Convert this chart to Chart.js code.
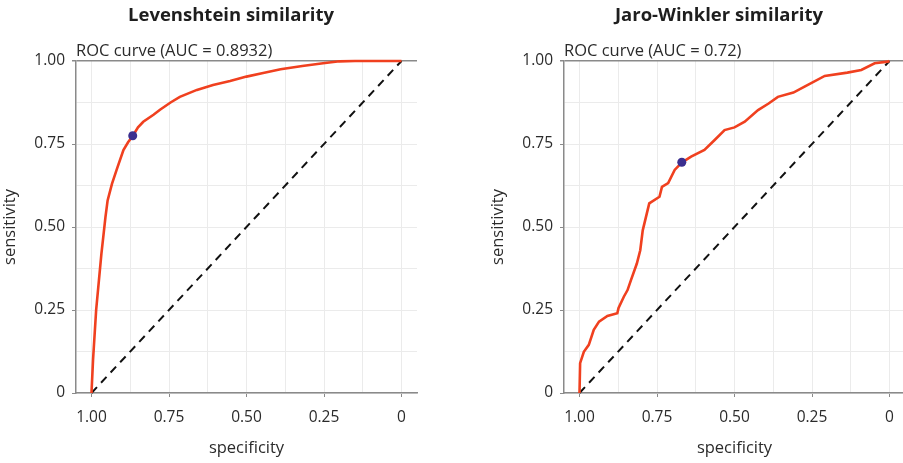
<!DOCTYPE html>
<html>
<head>
<meta charset="utf-8">
<script src="https://cdn.jsdelivr.net/npm/chart.js@4/dist/chart.umd.min.js"></script>
<style>
    html, body { margin: 0; padding: 0; background: #fff; overflow: hidden; width: 903px; height: 463px; }
    canvas { position: absolute; top: 0; }
    #lev-chart { left: 0; }
    #jw-chart { left: 488px; }
</style>
</head>
<body>
<canvas id="lev-chart" width="462" height="463"></canvas>
<canvas id="jw-chart" width="462" height="463"></canvas>
<script>
// ROC data (specificity, sensitivity)
const levSpec = [1.0, 0.995, 0.985, 0.976, 0.968, 0.962, 0.955, 0.948, 0.934, 0.919, 0.897, 0.882, 0.867, 0.85, 0.833, 0.80, 0.779, 0.745, 0.715, 0.66, 0.608, 0.553, 0.5, 0.45, 0.39, 0.32, 0.253, 0.2, 0.15, 0.0];
const levSens = [0.0, 0.10, 0.25, 0.34, 0.42, 0.47, 0.53, 0.58, 0.63, 0.672, 0.732, 0.755, 0.774, 0.80, 0.817, 0.838, 0.853, 0.875, 0.892, 0.913, 0.928, 0.94, 0.953, 0.963, 0.975, 0.985, 0.993, 0.999, 1.0, 1.0];
const levBest = [0.867, 0.775];

const jwSpec = [1.0, 0.998, 0.986, 0.97, 0.954, 0.937, 0.91, 0.878, 0.874, 0.857, 0.845, 0.834, 0.815, 0.804, 0.796, 0.775, 0.742, 0.734, 0.714, 0.693, 0.67, 0.64, 0.597, 0.564, 0.532, 0.50, 0.467, 0.424, 0.39, 0.36, 0.31, 0.274, 0.209, 0.136, 0.091, 0.048, 0.006, 0.0];
const jwSens = [0.0, 0.09, 0.124, 0.145, 0.19, 0.215, 0.232, 0.24, 0.256, 0.29, 0.31, 0.34, 0.39, 0.43, 0.49, 0.571, 0.591, 0.621, 0.632, 0.672, 0.694, 0.712, 0.732, 0.762, 0.792, 0.80, 0.817, 0.852, 0.872, 0.892, 0.905, 0.923, 0.955, 0.965, 0.973, 0.993, 0.998, 1.0];
const jwBest = [0.67, 0.695];

const diagSpec = [1, 0];
const diagSens = [0, 1];

const gridValues = [0, 0.125, 0.25, 0.375, 0.5, 0.625, 0.75, 0.875, 1];
const majorValues = [1, 0.75, 0.5, 0.25, 0];
const majorLabels = ['1.00', '0.75', '0.50', '0.25', '0'];

const FONT = "'Open Sans', 'DejaVu Sans', sans-serif";
const AXIS_COLOR = '#8a8a8a';
const GRID_COLOR = '#ebebeb';
const TEXT_COLOR = '#2b2b2b';

const toPoints = (xs, ys) => xs.map((x, i) => ({ x: x, y: ys[i] }));

const labelFor = (value) => {
    const idx = majorValues.findIndex(v => Math.abs(v - value) < 1e-9);
    return idx >= 0 ? majorLabels[idx] : '';
};
const isMajor = (value) => majorValues.some(v => Math.abs(v - value) < 1e-9);
const setTicks = (scale) => { scale.ticks = gridValues.map(v => ({ value: v })); };

function makeRocChart(id, title, subtitle, spec, sens, best) {
    const ctx = document.getElementById(id);
    return new Chart(ctx, {
        type: 'scatter',
        data: {
            datasets: [
                {
                    data: [{ x: best[0], y: best[1] }],
                    pointRadius: 4.5,
                    pointBackgroundColor: '#3b2f8f',
                    pointBorderWidth: 0,
                    showLine: false,
                    clip: false
                },
                {
                    data: toPoints(spec, sens),
                    showLine: true,
                    borderColor: '#f0401f',
                    borderWidth: 2.6,
                    pointRadius: 0,
                    tension: 0,
                    clip: false
                },
                {
                    data: toPoints(diagSpec, diagSens),
                    showLine: true,
                    borderColor: '#111',
                    borderWidth: 2,
                    borderDash: [8, 6],
                    pointRadius: 0,
                    clip: false
                }
            ]
        },
        options: {
            responsive: false,
            animation: false,
            layout: { padding: 0 },
            plugins: {
                legend: { display: false },
                tooltip: { enabled: false },
                title: {
                    display: true,
                    text: title,
                    color: '#1e1e1e',
                    font: { family: FONT, size: 18.5, weight: 'bold' },
                    padding: { top: 5, bottom: 5 }
                },
                subtitle: {
                    display: true,
                    text: subtitle,
                    fullSize: false,
                    align: 'start',
                    color: TEXT_COLOR,
                    font: { family: FONT, size: 16.5 },
                    padding: { top: 9, bottom: 0 }
                }
            },
            scales: {
                x: {
                    type: 'linear',
                    reverse: true,
                    min: -0.05,
                    max: 1.05,
                    afterBuildTicks: setTicks,
                    afterFit: (scale) => { scale.height = 70; },
                    border: { display: true, color: AXIS_COLOR, width: 1.5 },
                    grid: {
                        color: GRID_COLOR,
                        lineWidth: 1,
                        tickLength: 4,
                        tickColor: (c) => isMajor(c.tick.value) ? AXIS_COLOR : 'rgba(0,0,0,0)'
                    },
                    ticks: {
                        autoSkip: false,
                        maxRotation: 0,
                        padding: 11,
                        color: TEXT_COLOR,
                        font: { family: FONT, size: 15.5 },
                        callback: (value) => labelFor(value)
                    },
                    title: {
                        display: true,
                        text: 'specificity',
                        color: TEXT_COLOR,
                        font: { family: FONT, size: 16.5 },
                        padding: { top: 0, bottom: 5 }
                    }
                },
                y: {
                    type: 'linear',
                    min: 0,
                    max: 1,
                    afterBuildTicks: setTicks,
                    afterFit: (scale) => { scale.width = 76; },
                    border: { display: true, color: AXIS_COLOR, width: 1.5 },
                    grid: {
                        color: (c) => c.tick.value === 1 ? AXIS_COLOR : GRID_COLOR,
                        lineWidth: (c) => c.tick.value === 1 ? 1.5 : 1,
                        tickLength: 4,
                        tickColor: (c) => isMajor(c.tick.value) ? AXIS_COLOR : 'rgba(0,0,0,0)'
                    },
                    ticks: {
                        autoSkip: false,
                        padding: 7,
                        color: TEXT_COLOR,
                        font: { family: FONT, size: 15.5 },
                        callback: (value) => labelFor(value)
                    },
                    title: {
                        display: true,
                        text: 'sensitivity',
                        color: TEXT_COLOR,
                        font: { family: FONT, size: 16.5 },
                        padding: { top: 0, bottom: 0 }
                    }
                },
                // empty right-hand gutter so the title centres on the whole panel
                gutter: {
                    type: 'linear',
                    position: 'right',
                    min: 0,
                    max: 1,
                    afterFit: (scale) => { scale.width = 45; },
                    border: { display: false },
                    grid: { display: false },
                    ticks: { display: false }
                }
            }
        }
    });
}

document.addEventListener('DOMContentLoaded', () => {
    makeRocChart('lev-chart', 'Levenshtein similarity', 'ROC curve (AUC = 0.8932)', levSpec, levSens, levBest);
    makeRocChart('jw-chart', 'Jaro-Winkler similarity', 'ROC curve (AUC = 0.72)', jwSpec, jwSens, jwBest);
});
</script>
</body>
</html>
